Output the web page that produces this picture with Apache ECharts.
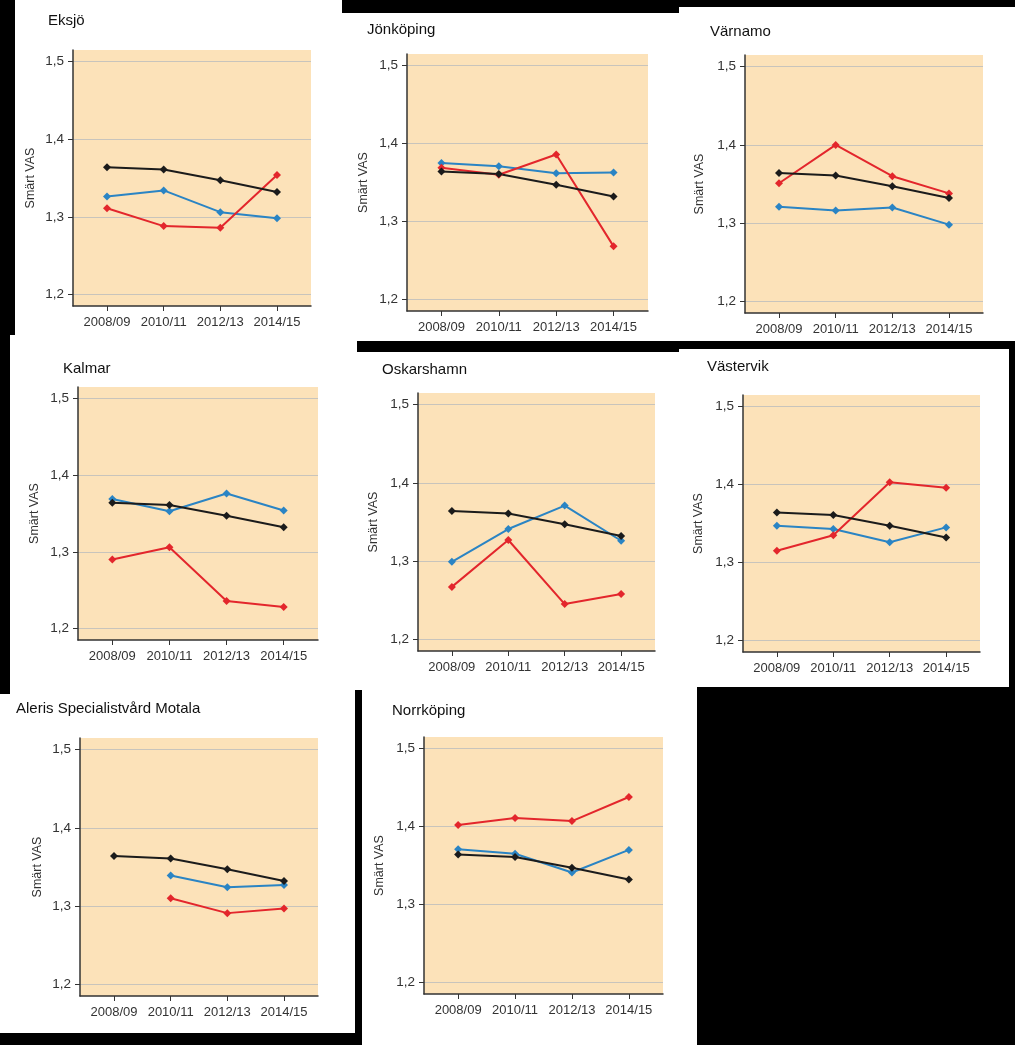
<!DOCTYPE html>
<html><head><meta charset="utf-8">
<script src="https://cdn.jsdelivr.net/npm/echarts@6/dist/echarts.min.js"></script>
<style>html,body{margin:0;padding:0;background:#fff;}#c{width:1015px;height:1045px;}</style>
</head><body><div id="c"></div>
<script>
// ---- data ----
const categories = ['2008/09', '2010/11', '2012/13', '2014/15'];
const yTicks = [1.2, 1.3, 1.4, 1.5];
const clinics = ['Eksjö', 'Jönköping', 'Värnamo', 'Kalmar', 'Oskarshamn', 'Västervik', 'Aleris Specialistvård Motala', 'Norrköping'];
const national = [1.364, 1.361, 1.347, 1.332];

const eksjoBlue = [1.326, 1.334, 1.306, 1.298];
const eksjoRed = [1.311, 1.288, 1.286, 1.354];
const jonkopingBlue = [1.375, 1.371, 1.362, 1.363];
const jonkopingRed = [1.369, 1.360, 1.386, 1.268];
const varnamoBlue = [1.321, 1.316, 1.320, 1.298];
const varnamoRed = [1.351, 1.400, 1.360, 1.338];
const kalmarBlue = [1.369, 1.353, 1.376, 1.354];
const kalmarRed = [1.290, 1.306, 1.236, 1.228];
const oskarshamnBlue = [1.299, 1.341, 1.371, 1.326];
const oskarshamnRed = [1.267, 1.327, 1.245, 1.258];
const vastervikBlue = [1.347, 1.343, 1.326, 1.345];
const vastervikRed = [1.315, 1.335, 1.403, 1.396];
const alerisBlue = [null, 1.339, 1.324, 1.327];
const alerisRed = [null, 1.310, 1.291, 1.297];
const norrkopingBlue = [1.371, 1.365, 1.341, 1.370];
const norrkopingRed = [1.402, 1.411, 1.407, 1.438];

const blueSets = [eksjoBlue, jonkopingBlue, varnamoBlue, kalmarBlue, oskarshamnBlue, vastervikBlue, alerisBlue, norrkopingBlue];
const redSets = [eksjoRed, jonkopingRed, varnamoRed, kalmarRed, oskarshamnRed, vastervikRed, alerisRed, norrkopingRed];

// ---- layout (positions only) ----
const layout = [
  {left: 73, top: 50, width: 238, height: 256, tx: 48, ty: 22, gap: 36},
  {left: 407, top: 54, width: 241, height: 257, tx: 367, ty: 31, gap: 37},
  {left: 745, top: 55, width: 238, height: 258, tx: 710, ty: 33, gap: 39},
  {left: 78, top: 387, width: 240, height: 253, tx: 63, ty: 370, gap: 37},
  {left: 418, top: 393, width: 237, height: 258, tx: 382, ty: 371, gap: 38},
  {left: 743, top: 395, width: 237, height: 257, tx: 707, ty: 368, gap: 38},
  {left: 80, top: 738, width: 238, height: 258, tx: 16, ty: 710, gap: 36},
  {left: 424, top: 737, width: 239, height: 257, tx: 392, ty: 712, gap: 38}
];
const blackRects = [
  [0, 0, 15, 335], [0, 335, 10, 359],
  [342, 0, 337, 13], [679, 0, 336, 7],
  [357, 341, 322, 11], [679, 341, 336, 8], [1009, 341, 6, 346],
  [697, 687, 318, 358], [355, 690, 7, 355], [0, 1033, 362, 12]
];

const labelFont = "'Liberation Sans', Arial, sans-serif";
const titleFont = "'Liberation Sans', Arial, sans-serif";
const axisColor = '#333';
const textColor = '#333';
const colBlack = '#1b1b1b', colBlue = '#2a84c4', colRed = '#e3262c';
const idx = [0, 1, 2, 3];

function toPts(arr) {
  const out = [];
  arr.forEach((v, i) => { if (v !== null) out.push([i, v]); });
  return out;
}

const grids = [], xAxes = [], yAxes = [], series = [], titles = [];
layout.forEach((L, i) => {
  grids.push({left: L.left, top: L.top, width: L.width, height: L.height, show: true,
    backgroundColor: '#fce2b9', borderWidth: 0});
  titles.push({text: clinics[i], left: L.tx, top: L.ty - 9, padding: 0,
    textStyle: {fontSize: 15, fontWeight: 'normal', color: '#111', fontFamily: titleFont}});
  xAxes.push({type: 'value', gridIndex: i, min: -0.6, max: 3.6,
    axisLine: {show: true, onZero: false, lineStyle: {color: axisColor, width: 1.5}},
    axisTick: {show: true, customValues: idx, length: 5, lineStyle: {color: axisColor, width: 1}},
    axisLabel: {customValues: idx, formatter: v => categories[Math.round(v)], margin: 10,
      fontSize: 13, color: textColor, fontFamily: labelFont},
    splitLine: {show: false}});
  yAxes.push({type: 'value', gridIndex: i, min: 1.185, max: 1.515,
    name: 'Smärt VAS', nameLocation: 'middle', nameGap: L.gap,
    nameTextStyle: {fontSize: 12.5, color: textColor, fontFamily: labelFont},
    axisLine: {show: true, onZero: false, lineStyle: {color: axisColor, width: 1.5}},
    axisTick: {show: true, customValues: yTicks, length: 5, lineStyle: {color: axisColor, width: 1}},
    axisLabel: {customValues: yTicks, formatter: v => v.toFixed(1).replace('.', ','), margin: 9,
      fontSize: 13.5, color: textColor, fontFamily: labelFont},
    splitLine: {show: true, lineStyle: {color: '#c8c4bc', width: 1}}});
  const mk = (data, color, name) => ({type: 'line', name: name, xAxisIndex: i, yAxisIndex: i,
    data: toPts(data), symbol: 'diamond', symbolSize: 8, showSymbol: true,
    lineStyle: {color: color, width: 2}, itemStyle: {color: color}, animation: false, silent: true});
  series.push(mk(blueSets[i], colBlue, clinics[i] + ' blå'));
  series.push(mk(redSets[i], colRed, clinics[i] + ' röd'));
  series.push(mk(national, colBlack, 'Riket'));
});

const chart = echarts.init(document.getElementById('c'), null, {renderer: 'canvas'});
chart.setOption({
  animation: false,
  backgroundColor: '#fff',
  title: titles,
  grid: grids,
  xAxis: xAxes,
  yAxis: yAxes,
  series: series,
  graphic: blackRects.map(r => ({type: 'rect', shape: {x: r[0], y: r[1], width: r[2], height: r[3]},
    style: {fill: '#000'}, silent: true}))
});
</script></body></html>
